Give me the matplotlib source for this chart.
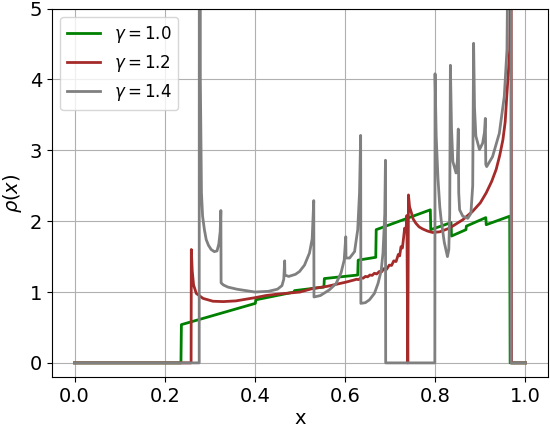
import matplotlib
matplotlib.use("Agg")
from matplotlib import pyplot as plt

# gamma = 1.0
x_g10 = [0.0, 0.236, 0.237, 0.401, 0.402, 0.487, 0.488, 0.553, 0.554, 0.628, 0.629,
         0.668, 0.669, 0.789, 0.790, 0.835, 0.836, 0.868, 0.869, 0.912, 0.913, 0.965,
         0.966, 1.0]
y_g10 = [0.0, 0.0, 0.54, 0.84, 0.89, 1.00, 1.02, 1.07, 1.19, 1.24, 1.45,
         1.49, 1.88, 2.16, 1.88, 1.98, 1.79, 1.88, 1.93, 2.05, 1.95, 2.07,
         0.0, 0.0]

# gamma = 1.2
x_g12 = [0.0, 0.2585, 0.259, 0.261, 0.264, 0.270, 0.285, 0.307, 0.330, 0.358, 0.400,
         0.424, 0.450, 0.500, 0.528, 0.560, 0.602, 0.620, 0.625, 0.630, 0.635, 0.640,
         0.645, 0.650, 0.655, 0.660, 0.665, 0.670, 0.676, 0.681, 0.686, 0.692, 0.698,
         0.703, 0.708, 0.713, 0.718, 0.721, 0.724, 0.727, 0.730, 0.732, 0.735, 0.737,
         0.739, 0.7405, 0.743, 0.746, 0.751, 0.757, 0.764, 0.772, 0.783, 0.794, 0.810,
         0.831, 0.861, 0.883, 0.900, 0.913, 0.925, 0.935, 0.943, 0.950, 0.955, 0.958,
         0.962, 0.965, 0.967, 0.968, 0.969, 1.0]
y_g12 = [0.0, 0.0, 1.60, 1.30, 1.10, 0.98, 0.91, 0.87, 0.865, 0.875, 0.92,
         0.95, 0.97, 1.00, 1.05, 1.08, 1.14, 1.17, 1.18, 1.175, 1.20, 1.195,
         1.22, 1.215, 1.24, 1.235, 1.265, 1.255, 1.29, 1.285, 1.33, 1.32, 1.38,
         1.375, 1.44, 1.43, 1.53, 1.51, 1.64, 1.62, 1.78, 1.90, 1.86, 2.08,
         0.0, 2.37, 2.20, 2.14, 2.03, 1.97, 1.92, 1.89, 1.86, 1.84, 1.85,
         1.90, 2.02, 2.14, 2.26, 2.40, 2.56, 2.73, 2.93, 3.15, 3.40, 3.71,
         4.10, 4.42, 5.5, 8.0, 0.0, 0.0]

# gamma = 1.4
x_g14 = [0.0, 0.2765, 0.2775, 0.279, 0.2815, 0.284, 0.288, 0.292, 0.297, 0.303, 0.310,
         0.316, 0.320, 0.323, 0.3245, 0.325, 0.330, 0.340, 0.360, 0.380, 0.400, 0.430,
         0.450, 0.460, 0.464, 0.466, 0.4665, 0.475, 0.490, 0.499, 0.510, 0.521, 0.527,
         0.5305, 0.531, 0.545, 0.565, 0.580, 0.591, 0.598, 0.6015, 0.602, 0.610, 0.621,
         0.628, 0.632, 0.6345, 0.635, 0.645, 0.654, 0.665, 0.673, 0.680, 0.684, 0.688,
         0.6895, 0.690, 0.799, 0.7995, 0.802, 0.806, 0.810, 0.813, 0.820, 0.827, 0.830,
         0.832, 0.8335, 0.836, 0.839, 0.846, 0.849, 0.851, 0.852, 0.854, 0.861, 0.872,
         0.879, 0.883, 0.885, 0.887, 0.890, 0.898, 0.905, 0.909, 0.911, 0.912, 0.914,
         0.927, 0.942, 0.953, 0.959, 0.962, 0.965, 0.9675, 0.968, 1.0]
y_g14 = [0.0, 0.0, 30.0, 4.0, 2.40, 2.07, 1.88, 1.74, 1.66, 1.60, 1.57,
         1.58, 1.68, 1.85, 2.15, 1.13, 1.10, 1.07, 1.04, 1.02, 1.00, 1.01,
         1.04, 1.09, 1.18, 1.44, 1.24, 1.22, 1.25, 1.29, 1.38, 1.55, 1.75,
         2.29, 0.93, 0.95, 1.03, 1.12, 1.27, 1.45, 1.78, 1.48, 1.48, 1.57,
         1.88, 2.40, 3.21, 0.84, 0.85, 0.89, 0.98, 1.12, 1.30, 1.55, 2.10,
         2.86, 0.0, 0.0, 4.08, 3.20, 2.60, 2.20, 2.02, 1.70, 1.50, 1.60,
         2.10, 4.20, 3.30, 2.84, 2.68, 2.85, 3.30, 2.40, 2.16, 2.07, 2.04,
         2.11, 2.50, 4.51, 3.60, 3.20, 3.01, 3.10, 3.25, 3.45, 2.80, 2.77,
         2.91, 3.24, 3.76, 4.42, 6.5, 12.0, 30.0, 0.0, 0.0]

labels = [r"$\gamma=1.0$", r"$\gamma=1.2$", r"$\gamma=1.4$"]
colors = ["green", "brown", "gray"]

fig = plt.figure(figsize=(5.5, 4.28), dpi=100)
ax = fig.add_subplot(111)
fig.subplots_adjust(left=0.0945, right=0.9964, bottom=0.119, top=0.980)

for xs, ys, lab, col in zip([x_g10, x_g12, x_g14], [y_g10, y_g12, y_g14], labels, colors):
    ax.plot(xs, ys, color=col, lw=2, label=lab)

ax.set_ylim(-0.2, 5)
ax.set_xlabel("x", fontsize=14, labelpad=2)
ax.set_ylabel(r"$\rho(x)$", fontsize=14)
ax.tick_params(labelsize=14)
ax.grid(True)
ax.legend(loc="upper left", fontsize=12)

fig.savefig("out.png", dpi=100)
